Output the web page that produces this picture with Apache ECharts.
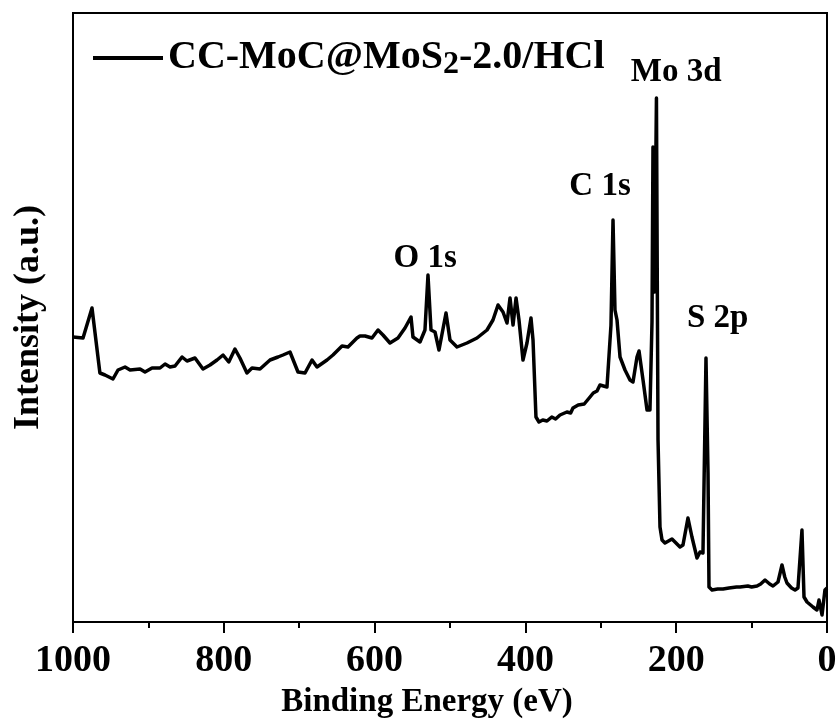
<!DOCTYPE html>
<html>
<head>
<meta charset="utf-8">
<script src="https://cdn.jsdelivr.net/npm/echarts@6/dist/echarts.min.js"></script>
<style>
  html, body { margin: 0; padding: 0; background: #fff; }
  #chart { width: 840px; height: 724px; }
</style>
</head>
<body>
<div id="chart"></div>
<script>
// XPS survey spectrum, binding energy (eV) vs. intensity (a.u.)
const energy = [
  1000, 986.7, 974.8, 964.3, 957.6, 947.0, 940.3, 931.0, 924.3, 911.1,
  904.5, 895.2, 884.6, 877.9, 871.3, 864.7, 855.4, 848.8, 838.2, 827.6,
  818.3, 809.0, 801.0, 793.4, 785.2, 778.6, 769.3, 762.6, 752.0, 738.7,
  728.1, 721.5, 712.2, 701.6, 692.3, 683.0, 676.4, 663.1, 655.2, 643.2,
  635.3, 623.4, 619.4, 612.7, 603.5, 595.5, 588.9, 579.6, 569.0, 559.7,
  551.7, 549.1, 539.8, 533.2, 529.2, 525.2, 519.9, 514.6, 505.3, 500.0,
  490.7, 477.5, 464.2, 450.9, 443.0, 436.3, 429.7, 424.4, 420.4, 416.4,
  412.4, 408.5, 403.2, 397.9, 392.6, 389.9, 386.0, 382.0, 377.0, 371.4,
  365.0, 360.0, 354.1, 345.0, 340.0, 336.9, 330.0, 327.6, 322.0, 314.3,
  310.0, 305.0, 301.1, 291.8, 286.5, 283.8, 281.2, 278.5, 274.5,
  267.9, 261.3, 257.3, 252.0, 249.3, 244.0, 238.7, 234.8, 232.1, 230.8,
  228.8, 226.2, 224.1, 221.5, 218.8, 214.9, 205.6, 201.6, 195.0, 191.0,
  184.4, 179.1, 172.4, 168.4, 164.5, 160.5, 157.8, 156.5, 152.5, 145.0,
  137.9, 130.0, 120.0, 115.4, 105.0, 100.0, 92.8, 88.0, 82.2, 76.0,
  71.6, 65.0, 59.7, 56.0, 53.1, 47.0, 42.4, 38.5, 33.2, 30.5,
  26.5, 18.6, 13.3, 10.6, 6.6, 2.7, 0
];
const intensity = [
  285, 284, 314, 249, 247, 243, 252, 255, 252, 253,
  250, 254, 254, 258, 255, 256, 265, 261, 264, 253,
  257, 262, 267, 260, 273, 264, 249, 254, 253, 262,
  265, 267, 270, 250, 249, 262, 255, 262, 267, 276,
  275, 284, 286, 286, 284, 292, 287, 279, 284, 294,
  305, 285, 280, 292, 347, 292, 290, 272, 309, 282,
  275, 279, 284, 292, 302, 317, 310, 299, 324, 297,
  324, 302, 262, 279, 304, 282, 205, 200, 202, 201,
  205, 203, 207, 210, 209, 214, 217, 219, 218, 225,
  229, 231, 237, 235, 297, 402, 312, 302, 265,
  252, 242, 240, 265, 271, 242, 212, 212, 300, 475,
  330, 524, 182, 95, 82, 79, 83, 80, 75, 77,
  104, 85, 64, 70, 69, 264, 149, 35, 32, 33,
  33, 34, 35, 35, 36, 35, 36, 38, 42, 38,
  36, 40, 57, 45, 39, 34, 32, 34, 92, 25,
  20, 15, 12, 22, 7, 32, 34
];
const xTicks = [0, 200, 400, 600, 800, 1000];

// peak annotations: name, energy, intensity of the label centre
const peakNames = ['Mo 3d', 'C 1s', 'O 1s', 'S 2p'];
const peakLabelEnergy = [200, 301, 533, 145];
const peakLabelIntensity = [550, 436, 364, 304];

const seriesName = 'CC-MoC@MoS2-2.0/HCl';
const FONT = '"Liberation Serif", "Times New Roman", serif';

const spectrum = energy.map((e, i) => [e, intensity[i]]);
const peakMarks = peakNames.map((n, i) => ({
  name: n,
  coord: [peakLabelEnergy[i], peakLabelIntensity[i]]
}));

const chart = echarts.init(document.getElementById('chart'), null, { renderer: 'canvas' });

chart.setOption({
  animation: false,
  backgroundColor: '#ffffff',
  grid: {
    left: 73, right: 13, top: 13, bottom: 102,
    show: true, borderColor: '#000', borderWidth: 2, backgroundColor: 'transparent'
  },
  legend: {
    left: 88, top: 30,
    icon: 'rect', itemWidth: 70, itemHeight: 4,
    itemStyle: { color: '#000' },
    data: [seriesName],
    formatter: () => '{a|CC-MoC@MoS}{s|2}{a|-2.0/HCl}',
    textStyle: {
      color: '#000',
      rich: {
        a: { fontFamily: FONT, fontWeight: 'bold', fontSize: 40, color: '#000', lineHeight: 44 },
        s: { fontFamily: FONT, fontWeight: 'bold', fontSize: 32, color: '#000', lineHeight: 44, padding: [14, 0, 0, 0] }
      }
    }
  },
  xAxis: {
    type: 'value',
    inverse: true,
    min: 0, max: 1000, interval: 200,
    axisLine: { show: true, onZero: false, lineStyle: { color: '#000', width: 2 } },
    axisTick: { show: true, inside: false, length: 11, lineStyle: { color: '#000', width: 2 } },
    minorTick: { show: true, splitNumber: 2, length: 6, lineStyle: { color: '#000', width: 2 } },
    splitLine: { show: false },
    axisLabel: {
      color: '#000', fontFamily: FONT, fontWeight: 'bold', fontSize: 38, margin: 20,
      formatter: v => (xTicks.indexOf(v) >= 0 ? String(v) : '')
    }
  },
  yAxis: {
    type: 'value',
    min: 0, max: 609,
    name: 'Intensity (a.u.)',
    nameLocation: 'middle',
    nameGap: 26,
    nameRotate: 90,
    nameTextStyle: { color: '#000', fontFamily: FONT, fontWeight: 'bold', fontSize: 36 },
    axisLine: { show: true, lineStyle: { color: '#000', width: 2 } },
    axisTick: { show: false },
    axisLabel: { show: false },
    splitLine: { show: false }
  },
  graphic: [{
    type: 'text',
    x: 427, y: 702,
    style: {
      text: 'Binding Energy (eV)',
      fill: '#000',
      font: 'bold 33px ' + FONT,
      align: 'center',
      verticalAlign: 'middle'
    }
  }],
  series: [{
    name: seriesName,
    type: 'line',
    data: spectrum,
    showSymbol: false,
    lineStyle: { color: '#000', width: 3.5, join: 'round' },
    itemStyle: { color: '#000' },
    markPoint: {
      symbol: 'circle',
      symbolSize: 0,
      itemStyle: { color: 'transparent' },
      label: {
        show: true, position: 'inside',
        formatter: p => p.name,
        color: '#000', fontFamily: FONT, fontWeight: 'bold', fontSize: 33
      },
      data: peakMarks
    }
  }]
});
</script>
</body>
</html>
